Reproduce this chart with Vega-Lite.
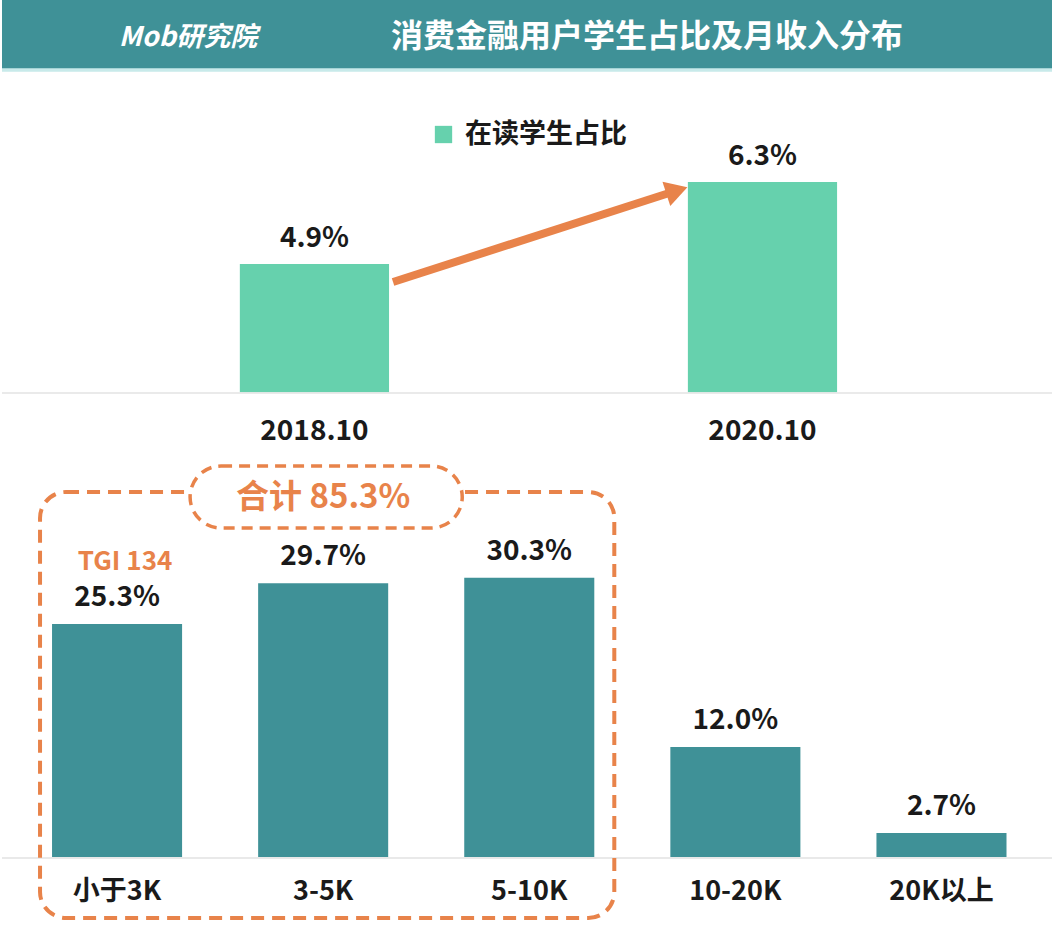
{
  "$schema": "https://vega.github.io/schema/vega-lite/v6.json",
  "padding": 0,
  "bounds": "flush",
  "spacing": 0,
  "background": "white",
  "config": {"view": {"stroke": null}, "font": "Noto Sans CJK SC", "text": {"font": "Noto Sans CJK SC"}},
  "resolve": {"scale": {"x": "independent", "y": "independent", "color": "independent"}, "legend": {"color": "independent"}},
  "vconcat": [
    {
      "width": 1052,
      "height": 70,
      "view": {"fill": "#3f9197", "stroke": null},
      "data": {"values": [{"t": "消费金融用户学生占比及月收入分布", "logo": "Mob研究院"}]},
      "layer": [
        {"mark": {"type": "text", "fontSize": 32, "fontWeight": "bold", "color": "white", "dx": 119, "dy": 2}, "encoding": {"text": {"field": "t"}}},
        {"mark": {"type": "text", "fontSize": 27, "fontWeight": "bold", "fontStyle": "italic", "color": "white", "dx": -340, "dy": 3}, "encoding": {"text": {"field": "logo"}}}
      ]
    },
    {
      "width": 1052,
      "height": 390,
      "data": {"values": [
        {"period": "2018.10", "series": "在读学生占比", "value": 4.9, "label": "4.9%"},
        {"period": "2020.10", "series": "在读学生占比", "value": 6.3, "label": "6.3%"}
      ]},
      "layer": [
        {"mark": {"type": "bar"},
         "encoding": {
           "x": {"field": "period", "type": "nominal", "axis": null, "scale": {"paddingInner": 0.667, "paddingOuter": 0.5075, "align": 0.523}},
           "y": {"field": "value", "type": "quantitative", "scale": {"domain": [1.557, 8.212], "nice": false, "zero": false}, "axis": null},
           "y2": {"datum": 2.7},
           "color": {"field": "series", "type": "nominal", "scale": {"range": ["#66d1ad"]},
             "legend": {"title": null, "orient": "none", "legendX": 428, "legendY": 51, "symbolType": "square", "symbolSize": 300, "symbolStrokeWidth": 0, "labelFontSize": 27, "labelFontWeight": "bold", "labelColor": "#1a1a1a", "labelFont": "Noto Sans CJK SC", "labelLimit": 400, "padding": 0, "labelOffset": 8}}
         }},
        {"mark": {"type": "rule", "color": "#e8e8e8", "strokeWidth": 1.5},
         "encoding": {"y": {"datum": 2.7, "type": "quantitative"}}},
        {"mark": {"type": "rule", "color": "#c8eaea", "strokeWidth": 3},
         "encoding": {"y": {"datum": 8.212, "type": "quantitative"}}},
        {"mark": {"type": "text", "fontSize": 28, "fontWeight": "bold", "color": "#1a1a1a", "baseline": "middle", "dy": -25},
         "encoding": {"x": {"field": "period", "type": "nominal"}, "y": {"field": "value", "type": "quantitative"}, "text": {"field": "label"}}},
        {"mark": {"type": "text", "fontSize": 28, "fontWeight": "bold", "color": "#1a1a1a", "baseline": "middle", "dy": 39},
         "encoding": {"x": {"field": "period", "type": "nominal"}, "y": {"datum": 2.7, "type": "quantitative"}, "text": {"field": "period"}}},
        {"data": {"values": [{}]},
         "mark": {"type": "rule", "color": "#e8834a", "strokeWidth": 8, "xOffset": 4, "x2Offset": -14},
         "encoding": {
           "x": {"datum": "2018.10", "type": "nominal", "bandPosition": 1},
           "x2": {"datum": "2020.10", "bandPosition": 0},
           "y": {"datum": 4.594, "type": "quantitative"},
           "y2": {"datum": 6.139}
         }},
        {"data": {"values": [{}]},
         "mark": {"type": "point", "shape": "triangle-right", "filled": true, "opacity": 1, "color": "#e8834a", "size": 650, "angle": -17.8, "xOffset": -11},
         "encoding": {
           "x": {"datum": "2020.10", "type": "nominal", "bandPosition": 0},
           "y": {"datum": 6.154, "type": "quantitative"}
         }}
      ]
    },
    {
      "width": 1052,
      "height": 474,
      "data": {"values": [
        {"income": "小于3K", "value": 25.3, "label": "25.3%", "note": "TGI 134"},
        {"income": "3-5K", "value": 29.7, "label": "29.7%", "note": null},
        {"income": "5-10K", "value": 30.3, "label": "30.3%", "note": null},
        {"income": "10-20K", "value": 12.0, "label": "12.0%", "note": null},
        {"income": "20K以上", "value": 2.7, "label": "2.7%", "note": null}
      ]},
      "layer": [
        {"mark": {"type": "bar", "color": "#3f9197"},
         "encoding": {
           "x": {"field": "income", "type": "nominal", "axis": null, "sort": null, "scale": {"paddingInner": 0.369, "paddingOuter": 0.2366, "align": 0.513}},
           "y": {"field": "value", "type": "quantitative", "scale": {"domain": [-8.22, 43.03], "nice": false, "zero": false}, "axis": null}
         }},
        {"mark": {"type": "rule", "color": "#e8e8e8", "strokeWidth": 1.5},
         "encoding": {"y": {"datum": 0, "type": "quantitative"}}},
        {"mark": {"type": "text", "fontSize": 28, "fontWeight": "bold", "color": "#1a1a1a", "baseline": "middle", "dy": -26},
         "encoding": {"x": {"field": "income", "type": "nominal", "sort": null}, "y": {"field": "value", "type": "quantitative"}, "text": {"field": "label"}}},
        {"transform": [{"filter": "datum.note != null"}],
         "mark": {"type": "text", "fontSize": 26, "fontWeight": "bold", "color": "#e8834a", "baseline": "middle", "dy": -62, "dx": 8},
         "encoding": {"x": {"field": "income", "type": "nominal", "sort": null}, "y": {"field": "value", "type": "quantitative"}, "text": {"field": "note"}}},
        {"mark": {"type": "text", "fontSize": 27, "fontWeight": "bold", "color": "#1a1a1a", "baseline": "middle", "dy": 34},
         "encoding": {"x": {"field": "income", "type": "nominal", "sort": null}, "y": {"datum": 0, "type": "quantitative"}, "text": {"field": "income"}}},
        {"data": {"values": [{}]},
         "mark": {"type": "rect", "fill": null, "fillOpacity": 0, "stroke": "#e8834a", "strokeWidth": 4, "strokeDash": [13, 8], "cornerRadius": 26, "xOffset": -12, "x2Offset": 20},
         "encoding": {
           "x": {"datum": "小于3K", "type": "nominal", "bandPosition": 0},
           "x2": {"datum": "5-10K", "bandPosition": 1},
           "y": {"datum": 39.57, "type": "quantitative"},
           "y2": {"datum": -6.49}
         }},
        {"data": {"values": [{}]},
         "mark": {"type": "rect", "fill": "white", "stroke": "#e8834a", "strokeWidth": 3.5, "strokeDash": [11, 7], "cornerRadius": 31, "xOffset": 8, "x2Offset": -2},
         "encoding": {
           "x": {"datum": "小于3K", "type": "nominal", "bandPosition": 1},
           "x2": {"datum": "5-10K", "bandPosition": 0},
           "y": {"datum": 42.38, "type": "quantitative"},
           "y2": {"datum": 35.68}
         }},
        {"data": {"values": [{}]},
         "mark": {"type": "text", "text": "合计 85.3%", "fontSize": 33, "fontWeight": "bold", "color": "#e8834a", "baseline": "middle"},
         "encoding": {
           "x": {"datum": "3-5K", "type": "nominal"},
           "y": {"datum": 38.92, "type": "quantitative"}
         }}
      ]
    }
  ]
}
